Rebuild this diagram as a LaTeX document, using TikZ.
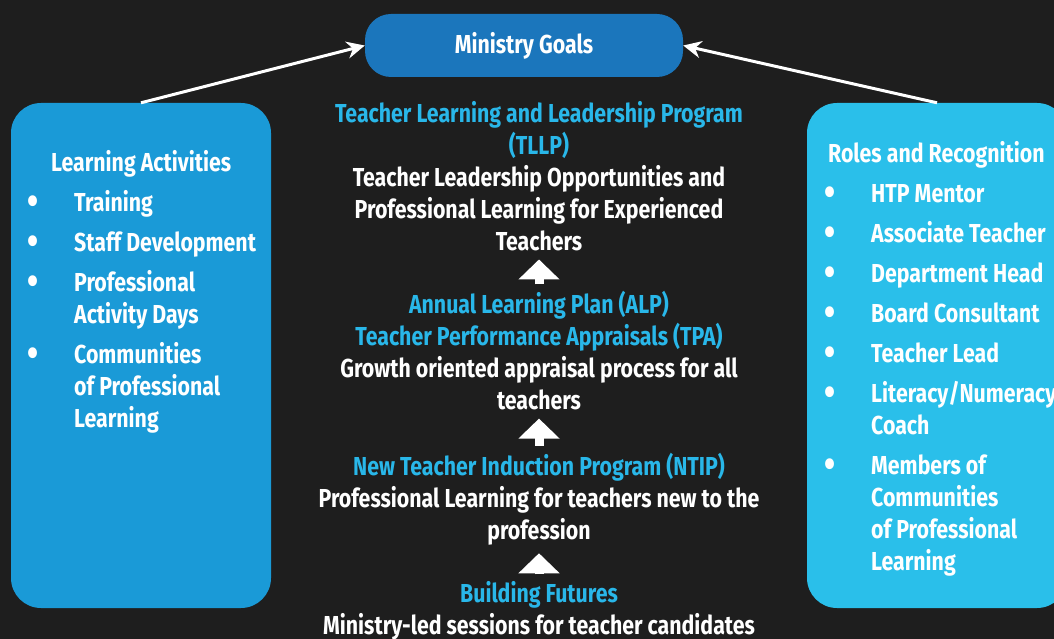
\documentclass[tikz,border=0pt]{standalone}
\usepackage{graphicx}
\usepackage{fontspec}
\setmainfont{Fira Sans}[FakeStretch=0.82]
\usetikzlibrary{arrows.meta,positioning}
\definecolor{night}{HTML}{1E1E1E}
\definecolor{goalblue}{HTML}{1B76BC}
\definecolor{learnblue}{HTML}{1A9AD7}
\definecolor{roleblue}{HTML}{2ABFEA}
\definecolor{stagecyan}{HTML}{29B7E9}
% bullet and hanging indent for the two side lists
\newcommand{\itemdot}{\makebox[47pt][l]{\raisebox{-3pt}{\scalebox{1.5}{\textbullet}}}}
\newcommand{\itemgap}{\hspace*{47pt}}
\newcommand{\stagename}[1]{\textcolor{stagecyan}{#1}}

\begin{document}
\begin{tikzpicture}[x=1pt,y=-1pt,
  every node/.style={font=\fontsize{26}{32}\selectfont\bfseries,text=white},
  panel/.style={rounded corners=30pt,minimum width=260pt,minimum height=505pt},
  goalbox/.style={fill=goalblue,rounded corners=26pt,minimum width=318pt,minimum height=63pt},
  listtext/.style={align=left,inner sep=0pt,anchor=north west},
  stage/.style={align=center,inner sep=0pt},
  link/.style={draw=white,line width=3pt,-{Stealth[length=18pt,width=17pt]}},
  uparrow/.style={draw=white,line width=9pt,-{Triangle[length=20pt,width=40pt]}}]
\fill[night] (0,0) rectangle (1054,639);
\useasboundingbox (0,0) rectangle (1054,639);

\node[goalbox] (goals) at (524,45.5) {Ministry Goals};
\node[panel,fill=learnblue] (lact) at (141,355.5) {};
\node[panel,fill=roleblue] (roles) at (937,355.5) {};

\node[listtext] (lactlist) at (27,150.5) {\hspace*{24pt}Learning Activities\\[8pt]
  \itemdot Training\\[8pt]
  \itemdot Staff Development\\[8pt]
  \itemdot Professional\\\itemgap Activity Days\\[8pt]
  \itemdot Communities\\\itemgap of Professional\\\itemgap Learning};
\node[listtext] (roleslist) at (824,141.5) {\hspace*{4pt}Roles and Recognition\\[8pt]
  \itemdot HTP Mentor\\[8pt]
  \itemdot Associate Teacher\\[8pt]
  \itemdot Department Head\\[8pt]
  \itemdot Board Consultant\\[8pt]
  \itemdot Teacher Lead\\[8pt]
  \itemdot Literacy/Numeracy\\\itemgap Coach\\[8pt]
  \itemdot Members of\\\itemgap Communities\\\itemgap of Professional\\\itemgap Learning};

% the four stages, bottom to top
\node[stage] (tllp) at (539,176.5) {\stagename{Teacher Learning and Leadership Program}\\\stagename{(TLLP)}\\Teacher Leadership Opportunities and\\Professional Learning for Experienced\\Teachers};
\node[stage] (alp) at (539,351) {\stagename{Annual Learning Plan (ALP)}\\\stagename{Teacher Performance Appraisals (TPA)}\\Growth oriented appraisal process for all\\teachers};
\node[stage] (ntip) at (539,499) {\stagename{New Teacher Induction Program (NTIP)}\\Professional Learning for teachers new to the\\profession};
\node[stage] (bf) at (539,611) {\stagename{Building Futures}\\Ministry-led sessions for teacher candidates};

\draw[uparrow,shorten <=7pt,shorten >=8pt] (bf) -- (ntip);
\draw[uparrow,shorten <=7pt,shorten >=8pt] (ntip) -- (alp);
\draw[uparrow,shorten <=7pt,shorten >=8pt] (alp) -- (tllp);
\draw[link] (lact.north) -- (goals.west);
\draw[link] (roles.north) -- (goals.east);
\end{tikzpicture}
\end{document}
